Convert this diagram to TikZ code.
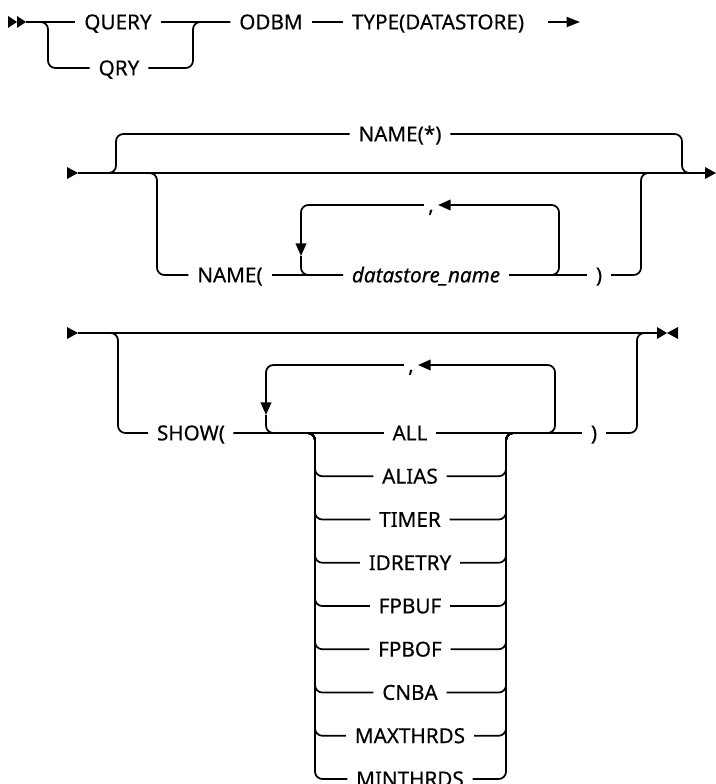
\documentclass[tikz,border=0pt]{standalone}
\usepackage{fontspec}
\setmainfont{Noto Sans}[FakeBold=0.4]
\usetikzlibrary{arrows.meta}

\tikzset{
    rail/.style={line width=1.3pt, rounded corners=5.5pt},
    kw/.style={font=\fontsize{15.5}{18}\selectfont, inner xsep=6.5pt, inner ysep=0pt,
               text height=11pt, text depth=0pt},
    var/.style={kw, font=\fontsize{15.5}{18}\selectfont\itshape},
    sep/.style={kw, inner xsep=3pt},
    tip/.style={-{Triangle[length=9.5pt,width=8pt]}}
}

\begin{document}
\begin{tikzpicture}[x=0.75pt, y=-0.75pt]
    \useasboundingbox (0,0) rectangle (716,784);

    % Row 1: command name
    \fill (8,16) -- (17,22) -- (8,28) -- cycle;
    \fill (17,16) -- (26,22) -- (17,28) -- cycle;
    \coordinate (r1start) at (26,22);
    \node[kw] (query) at (118,22) {QUERY};
    \node[kw] (qry) at (119,68) {QRY};
    \node[kw] (odbm) at (271,22) {ODBM};
    \node[kw] (type) at (438,22) {TYPE(DATASTORE)};
    \coordinate (qrysplit) at (48,22);
    \coordinate (qryjoin) at (193,22);
    \coordinate (r1cont) at (548,22);
    \draw[rail] (r1start) -- (query);
    \draw[rail] (query) -- (odbm);
    \draw[rail] (odbm) -- (type);
    \draw[rail] (r1start) -- (qrysplit) |- (qry);
    \draw[rail] (qry) -| (qryjoin) -- (odbm);
    \draw[rail, -{Triangle[length=10pt,width=7.5pt]}] (r1cont) -- ++(32,0);

    % Row 2: NAME
    \fill (67,167) -- (78,173) -- (67,179) -- cycle;
    \fill (705,167) -- (716,173) -- (705,179) -- cycle;
    \coordinate (r2start) at (78,173);
    \coordinate (r2end) at (705,173);
    \draw[rail] (r2start) -- (r2end);

    \node[kw] (namestar) at (400,134) {NAME(*)};
    \coordinate (starL) at (116,173);
    \coordinate (starR) at (682,173);
    \draw[rail] (r2start) -- (starL) |- (namestar);
    \draw[rail] (namestar) -| (starR) -- (r2end);

    \node[kw] (nameopen) at (230,275) {NAME(};
    \node[var] (dsname) at (426,275) {datastore\_name};
    \node[kw] (rparen1) at (599,275) {)};
    \coordinate (nameL) at (157,173);
    \coordinate (nameR) at (641,173);
    \draw[rail] (r2start) -- (nameL) |- (nameopen);
    \draw[rail] (nameopen) -- (dsname);
    \draw[rail] (dsname) -- (rparen1);
    \draw[rail] (rparen1) -| (nameR) -- (r2end);

    % repeat loop for datastore names
    \node[sep] (comma1) at (431,205) {,};
    \coordinate (loop1R) at (559,275);
    \coordinate (loop1down) at (301,256);
    \draw[rail, tip] (dsname) -- (loop1R) |- (comma1);
    \draw[rail, tip] (comma1) -| (loop1down);
    \draw[rail] (loop1down) |- (dsname);

    % Row 3: SHOW
    \fill (67,327) -- (78,333) -- (67,339) -- cycle;
    \fill (657,327) -- (667,333) -- (657,339) -- cycle;
    \fill (678,327) -- (667,333) -- (678,339) -- cycle;
    \coordinate (r3start) at (78,333);
    \coordinate (r3end) at (657,333);
    \draw[rail] (r3start) -- (r3end);

    \node[kw] (show) at (191,433) {SHOW(};
    \node[kw] (all) at (410,433) {ALL};
    \node[kw] (rparen2) at (594,433) {)};
    \coordinate (showL) at (118,333);
    \coordinate (showR) at (637,333);
    \draw[rail] (r3start) -- (showL) |- (show);
    \draw[rail] (show) -- (all);
    \draw[rail] (all) -- (rparen2);
    \draw[rail] (rparen2) -| (showR) -- (r3end);

    % repeat loop for options
    \node[sep] (comma2) at (411,365) {,};
    \coordinate (loop2R) at (555,433);
    \coordinate (loop2down) at (266,415);
    \draw[rail, tip] (all) -- (loop2R) |- (comma2);
    \draw[rail, tip] (comma2) -| (loop2down);
    \draw[rail] (loop2down) |- (all);

    % option stack
    \coordinate (stackL) at (315,433);
    \coordinate (stackR) at (506,433);
    \foreach \opt [count=\i] in {ALIAS,TIMER,IDRETRY,FPBUF,FPBOF,CNBA,MAXTHRDS,MINTHRDS} {
        \node[kw] (opt\i) at (410,433+43.25*\i) {\opt};
        \draw[rail] (show) -- (stackL) |- (opt\i);
        \draw[rail] (opt\i) -| (stackR) -- (rparen2);
    }
\end{tikzpicture}
\end{document}
